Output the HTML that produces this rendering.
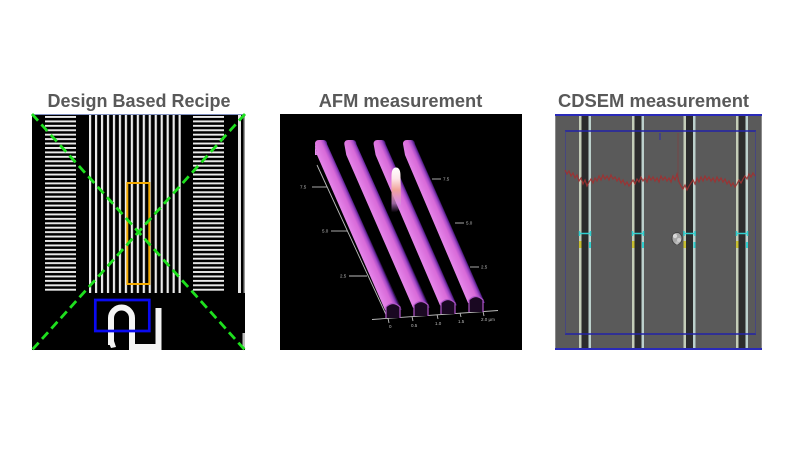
<!DOCTYPE html>
<html><head><meta charset="utf-8"><style>
html,body{margin:0;padding:0;background:#fff;}
svg{display:block;}
</style></head><body>
<svg width="800" height="450" viewBox="0 0 800 450" xmlns="http://www.w3.org/2000/svg">
<defs>
  <pattern id="hp" x="0" y="116" width="10" height="4.43" patternUnits="userSpaceOnUse">
    <rect x="0" y="0" width="10" height="1.9" fill="#ececec"/>
  </pattern>
  <pattern id="vp" x="89" y="0" width="5.97" height="10" patternUnits="userSpaceOnUse">
    <rect x="0" y="0" width="2.2" height="10" fill="#ececec"/>
  </pattern>
  <linearGradient id="g0" gradientUnits="userSpaceOnUse" x1="347.7" y1="225" x2="361.1" y2="219.1">
    <stop offset="0" stop-color="#e585ea"/><stop offset="0.6" stop-color="#d86ad8"/>
    <stop offset="0.8" stop-color="#a84cc8"/><stop offset="0.94" stop-color="#5e2496"/><stop offset="1" stop-color="#2a1040"/>
  </linearGradient>
  <linearGradient id="g1" gradientUnits="userSpaceOnUse" x1="376.9" y1="225" x2="390.3" y2="219.1">
    <stop offset="0" stop-color="#e585ea"/><stop offset="0.6" stop-color="#d86ad8"/>
    <stop offset="0.8" stop-color="#a84cc8"/><stop offset="0.94" stop-color="#5e2496"/><stop offset="1" stop-color="#2a1040"/>
  </linearGradient>
  <linearGradient id="g2" gradientUnits="userSpaceOnUse" x1="405.6" y1="225" x2="419" y2="219.1">
    <stop offset="0" stop-color="#e585ea"/><stop offset="0.6" stop-color="#d86ad8"/>
    <stop offset="0.8" stop-color="#a84cc8"/><stop offset="0.94" stop-color="#5e2496"/><stop offset="1" stop-color="#2a1040"/>
  </linearGradient>
  <linearGradient id="g3" gradientUnits="userSpaceOnUse" x1="434.8" y1="225" x2="448.2" y2="219.1">
    <stop offset="0" stop-color="#e585ea"/><stop offset="0.6" stop-color="#d86ad8"/>
    <stop offset="0.8" stop-color="#a84cc8"/><stop offset="0.94" stop-color="#5e2496"/><stop offset="1" stop-color="#2a1040"/>
  </linearGradient>
  <linearGradient id="bump" x1="0" y1="0" x2="0" y2="1">
    <stop offset="0" stop-color="#ffffff"/><stop offset="0.25" stop-color="#fde6ea"/>
    <stop offset="0.5" stop-color="#f0a49a"/><stop offset="0.8" stop-color="#d890e0" stop-opacity="0.7"/>
    <stop offset="1" stop-color="#c070d8" stop-opacity="0"/>
  </linearGradient>
</defs>

<!-- Titles -->
<g font-family="'Liberation Sans', Arial, sans-serif" font-weight="bold" fill="#595959" text-anchor="middle">
  <text x="139" y="107" font-size="18">Design Based Recipe</text>
  <text x="400.5" y="107" font-size="18.3">AFM measurement</text>
  <text x="653.5" y="107" font-size="18.4">CDSEM measurement</text>
</g>

<!-- Panel 1: Design Based Recipe -->
<rect x="32" y="114" width="213" height="236" fill="#000"/>
<rect x="45" y="116" width="31" height="177" fill="url(#hp)"/>
<rect x="193" y="116" width="31" height="177" fill="url(#hp)"/>
<rect x="89" y="115" width="92" height="178" fill="url(#vp)"/>
<rect x="238" y="114" width="3" height="179" fill="#e6e6e6"/>
<rect x="243.5" y="114" width="1.5" height="179" fill="#9a9a9a"/>
<rect x="242.5" y="333" width="2.5" height="15" fill="#bbbbbb"/>
<line x1="32" y1="114.5" x2="245" y2="114.5" stroke="#8090c0" stroke-width="1"/>
<rect x="127.3" y="183" width="22" height="101" fill="none" stroke="#f2a900" stroke-width="2"/>
<path d="M111,345 L111,318 A10.5,10.5 0 0 1 132,318 L132,347 L158.5,347 M158.5,350 L158.5,308" fill="none" stroke="#f4f4f4" stroke-width="6"/>
<path d="M108,341 L114,341 L116,347 L111,348 Z" fill="#f4f4f4"/>
<rect x="95.3" y="300" width="54" height="31" fill="none" stroke="#0a0af0" stroke-width="2.7"/>
<g stroke="#1ee01e" stroke-width="2.8" stroke-dasharray="9 5" fill="none">
  <line x1="32" y1="114" x2="245" y2="350"/>
  <line x1="245" y1="114" x2="32" y2="350"/>
</g>

<!-- Panel 2: AFM -->
<rect x="280" y="114" width="242" height="236" fill="#000"/>
<g stroke="#bdbdbd" stroke-width="0.9" fill="none">
  <line x1="317" y1="165" x2="388" y2="319"/>
  <line x1="372" y1="319.5" x2="498" y2="310.5"/>
  <line x1="312" y1="187" x2="327" y2="187"/>
  <line x1="331" y1="231" x2="347" y2="231"/>
  <line x1="349" y1="276" x2="367" y2="276"/>
  <line x1="432" y1="179" x2="441" y2="179"/>
  <line x1="455" y1="223" x2="464" y2="223"/>
  <line x1="470" y1="267" x2="479" y2="267"/>
  <line x1="388" y1="318" x2="389" y2="323"/>
  <line x1="412" y1="316.5" x2="413" y2="321"/>
  <line x1="437" y1="314.5" x2="438" y2="319"/>
  <line x1="460" y1="313" x2="461" y2="317"/>
  <line x1="483" y1="311.5" x2="484" y2="316"/>
</g>
<g font-family="'Liberation Sans', Arial, sans-serif" font-size="4.5" fill="#bdbdbd">
  <text x="300" y="188.5">7.5</text>
  <text x="322" y="232.5">5.0</text>
  <text x="340" y="277.5">2.5</text>
  <text x="443" y="180.5">7.5</text>
  <text x="466" y="224.5">5.0</text>
  <text x="481" y="268.5">2.5</text>
  <text x="389" y="328">0</text>
  <text x="411" y="327">0.5</text>
  <text x="435" y="325">1.0</text>
  <text x="458" y="323">1.5</text>
  <text x="481" y="321">2.0 µm</text>
</g>
<!-- ridges -->
<path d="M315,144 Q315,140 319,140 L323,140 Q327,140 327,144 L402,310 L385,310 L317,155 Z" fill="url(#g0)"/>
<path d="M344.3,144 Q344.3,140 348.3,140 L352.3,140 Q356.3,140 356.3,144 L430,307.7 L413,307.7 L346.3,155 Z" fill="url(#g1)"/>
<path d="M373.6,144 Q373.6,140 377.6,140 L381.6,140 Q385.6,140 385.6,144 L457,305.4 L440,305.4 L375.6,155 Z" fill="url(#g2)"/>
<path d="M403,144 Q403,140 407,140 L411,140 Q415,140 415,144 L485,303 L468,303 L405,155 Z" fill="url(#g3)"/>
<path d="M315,144 L315,155 L317,155 Z" fill="#e890ee"/>
<!-- ridge end faces -->
<g fill="#1a0822" stroke="#b055c8" stroke-width="1.2">
  <path d="M386,318 L386,307 Q393,300 400,307 L400,318"/>
  <path d="M414,316 L414,305 Q421,298 428,305 L428,316"/>
  <path d="M441,314 L441,303 Q448,296 455,303 L455,314"/>
  <path d="M469,312 L469,300 Q476,293 483,300 L483,312"/>
</g>
<!-- bump -->
<path d="M391.5,212 L391.5,176 Q391.5,167.5 396,167.5 Q400.5,167.5 400.5,176 L401,205 Q398,214 391.5,212 Z" fill="url(#bump)"/>

<!-- Panel 3: CDSEM -->
<rect x="555" y="114" width="207" height="236" fill="#5a5a5a"/>
<line x1="555.5" y1="114" x2="555.5" y2="350" stroke="#8a8a8a" stroke-width="1"/>
<line x1="761.5" y1="114" x2="761.5" y2="350" stroke="#8a8a8a" stroke-width="1"/>
<g>
  <rect x="579" y="114" width="2.5" height="236" fill="#c4cdb8"/><rect x="581.5" y="114" width="7" height="236" fill="#2c2c2c"/><rect x="588.5" y="114" width="2.5" height="236" fill="#bcd0cc"/>
  <rect x="632" y="114" width="2.5" height="236" fill="#c4cdb8"/><rect x="634.5" y="114" width="7" height="236" fill="#2c2c2c"/><rect x="641.5" y="114" width="2.5" height="236" fill="#bcd0cc"/>
  <rect x="683.5" y="114" width="2.5" height="236" fill="#c4cdb8"/><rect x="686" y="114" width="7" height="236" fill="#2c2c2c"/><rect x="693" y="114" width="2.5" height="236" fill="#bcd0cc"/>
  <rect x="736" y="114" width="2.5" height="236" fill="#c4cdb8"/><rect x="738.5" y="114" width="7" height="236" fill="#2c2c2c"/><rect x="745.5" y="114" width="2.5" height="236" fill="#bcd0cc"/>
</g>
<line x1="555" y1="115" x2="762" y2="115" stroke="#2a2ab8" stroke-width="2"/>
<line x1="565" y1="131" x2="756" y2="131" stroke="#2222a8" stroke-width="1.6"/>
<line x1="565" y1="334" x2="756" y2="334" stroke="#2222a8" stroke-width="1.6"/>
<line x1="555" y1="349" x2="762" y2="349" stroke="#2a2ab8" stroke-width="2"/>
<line x1="565.5" y1="131" x2="565.5" y2="334" stroke="#3a3a9a" stroke-width="1" opacity="0.6"/>
<line x1="755.5" y1="131" x2="755.5" y2="334" stroke="#3a3a9a" stroke-width="1" opacity="0.6"/>
<line x1="660" y1="133" x2="660" y2="140" stroke="#2a2ab0" stroke-width="1"/>
<line x1="678" y1="133" x2="678" y2="182" stroke="#8a3a3a" stroke-width="1" opacity="0.6"/>
<polyline fill="none" stroke="#a03030" stroke-width="1.2" opacity="0.9" points="565,170 567,174 569,171 571,176 573,173 575,178 577,175 579,181 581,178 583,184 585,180 587,186 589,182 591,179 593,183 595,178 597,181 599,176 601,180 603,175 605,179 607,176 609,180 611,175 613,179 615,177 617,181 619,178 621,183 623,180 625,185 627,182 629,186 631,183 633,180 635,184 637,179 639,182 641,177 643,181 645,178 647,182 649,176 651,180 653,177 655,181 657,178 659,182 661,176 663,180 665,177 667,181 669,178 671,182 673,176 675,180 677,174 679,182 681,186 683,189 685,185 687,190 689,186 691,183 693,180 695,184 697,178 699,182 701,177 703,181 705,176 707,180 709,177 711,181 713,178 715,182 717,177 719,181 721,178 723,182 725,179 727,184 729,181 731,186 733,183 735,187 737,184 739,180 741,183 743,179 745,176 747,179 749,174 751,177 753,173 755,176"/>
<g stroke="#30d0d0" stroke-width="1.5" fill="none">
  <path d="M579,233.5 L591,233.5 M579.5,231 L579.5,236 M590.5,231 L590.5,236"/>
  <path d="M632,233.5 L644,233.5 M632.5,231 L632.5,236 M643.5,231 L643.5,236"/>
  <path d="M683.5,233.5 L695.5,233.5 M684,231 L684,236 M695,231 L695,236"/>
  <path d="M736,233.5 L748,233.5 M736.5,231 L736.5,236 M747.5,231 L747.5,236"/>
</g>
<g>
  <rect x="579" y="241" width="2.5" height="7" fill="#c8c030"/><rect x="589" y="242" width="2" height="6" fill="#30d0d0"/>
  <rect x="632" y="241" width="2.5" height="7" fill="#c8c030"/><rect x="642" y="242" width="2" height="6" fill="#30d0d0"/>
  <rect x="683.5" y="241" width="2.5" height="7" fill="#c8c030"/><rect x="693.5" y="242" width="2" height="6" fill="#30d0d0"/>
  <rect x="736" y="241" width="2.5" height="7" fill="#c8c030"/><rect x="746" y="242" width="2" height="6" fill="#30d0d0"/>
</g>
<g>
  <ellipse cx="677" cy="238.5" rx="5" ry="6" fill="#a8a8a8" stroke="#3a3a3a" stroke-width="0.8"/>
  <circle cx="675" cy="236" r="2.2" fill="#d8d8d8"/>
  <circle cx="679" cy="240" r="2" fill="#cfcfcf"/>
  <circle cx="677" cy="243" r="1.6" fill="#bdbdbd"/>
</g>
</svg>
</body></html>
